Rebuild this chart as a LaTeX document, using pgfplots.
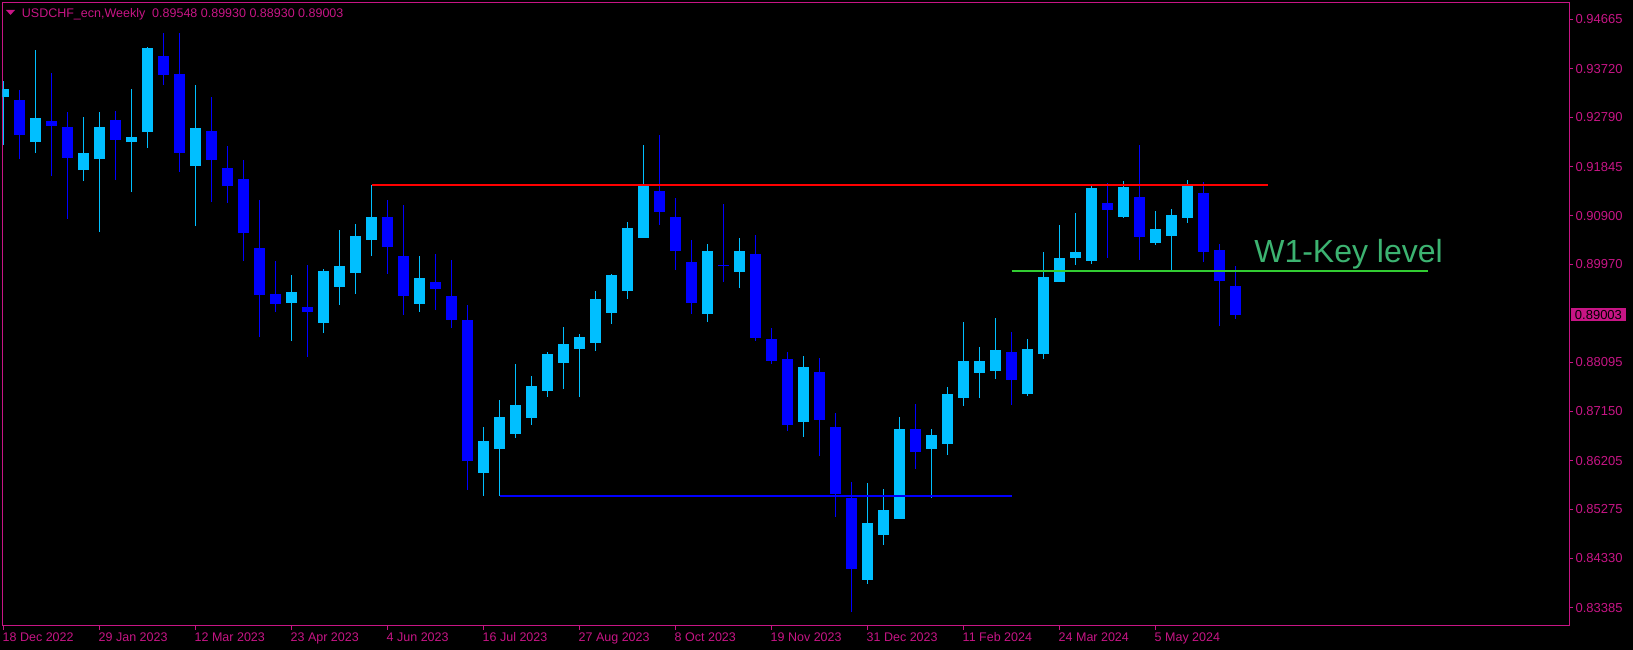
\documentclass[border=0pt]{standalone}
\usepackage{fontspec}
\setmainfont{Liberation Sans}
\usepackage{pgfplots}
\pgfplotsset{compat=1.18}
\usepackage{pgfplotstable}
\definecolor{mvr}{RGB}{199,21,133}
\definecolor{bullc}{RGB}{0,191,255}
\definecolor{bearc}{RGB}{0,0,255}
\definecolor{keyline}{RGB}{50,205,50}
\definecolor{keytext}{RGB}{60,179,113}

% weekly candles, index 0 = week of 18 Dec 2022
\pgfplotstableread{
i O H L C
0 0.93185 0.93486 0.92259 0.93332
2 0.92316 0.94080 0.92105 0.92776
5 0.91779 0.92796 0.91568 0.92105
6 0.91990 0.92891 0.90590 0.92604
8 0.92316 0.93332 0.91357 0.92412
9 0.92508 0.94138 0.92201 0.94119
12 0.91856 0.93409 0.90705 0.92585
18 0.89229 0.89766 0.88500 0.89440
20 0.88846 0.89881 0.88654 0.89843
21 0.89536 0.90629 0.89191 0.89938
22 0.89804 0.90744 0.89402 0.90514
23 0.90437 0.91492 0.90130 0.90878
26 0.89216 0.90130 0.89062 0.89708
30 0.85975 0.86851 0.85534 0.86583
31 0.86435 0.87369 0.85534 0.87043
32 0.86723 0.88059 0.86646 0.87273
33 0.87030 0.87829 0.86895 0.87637
34 0.87547 0.88289 0.87432 0.88251
35 0.88084 0.88769 0.87586 0.88443
36 0.88353 0.88635 0.87432 0.88577
37 0.88468 0.89459 0.88314 0.89306
38 0.89043 0.89791 0.88832 0.89766
39 0.89465 0.90782 0.89311 0.90667
40 0.90481 0.92259 0.90481 0.91478
44 0.89024 0.90360 0.88870 0.90226
46 0.89829 0.90475 0.89522 0.90226
50 0.86953 0.88213 0.86665 0.88002
54 0.83923 0.85778 0.83847 0.85010
55 0.84786 0.85662 0.84594 0.85260
56 0.85093 0.87043 0.85093 0.86813
58 0.86435 0.86813 0.85496 0.86698
59 0.86531 0.87618 0.86320 0.87484
60 0.87413 0.88865 0.87260 0.88117
61 0.87893 0.88385 0.87413 0.88117
62 0.87931 0.88941 0.87777 0.88328
64 0.87490 0.88539 0.87452 0.88347
65 0.88257 0.90207 0.88161 0.89728
66 0.89637 0.90725 0.89637 0.90092
67 0.90098 0.90955 0.89963 0.90207
68 0.90040 0.91472 0.89983 0.91434
70 0.90884 0.91568 0.90865 0.91453
72 0.90385 0.90993 0.90347 0.90648
73 0.90520 0.91031 0.89868 0.90916
74 0.90865 0.91588 0.90769 0.91472
}\bull

\pgfplotstableread{
i O H L C
1 0.93122 0.93313 0.91990 0.92450
3 0.92719 0.93639 0.91664 0.92623
4 0.92604 0.92891 0.90840 0.92015
7 0.92738 0.92911 0.91588 0.92355
10 0.93965 0.94406 0.93409 0.93601
11 0.93620 0.94406 0.91741 0.92105
13 0.92527 0.93179 0.91166 0.91971
14 0.91818 0.92239 0.91147 0.91472
15 0.91607 0.91971 0.90034 0.90571
16 0.90284 0.91204 0.88577 0.89382
17 0.89402 0.90034 0.89056 0.89210
19 0.89152 0.89958 0.88199 0.89056
24 0.90878 0.91204 0.89785 0.90303
25 0.90130 0.91108 0.88999 0.89369
27 0.89632 0.90169 0.89101 0.89497
28 0.89363 0.90054 0.88755 0.88909
29 0.88903 0.89191 0.85649 0.86205
41 0.91377 0.92450 0.90725 0.90980
42 0.90878 0.91242 0.89868 0.90232
43 0.90015 0.90437 0.89024 0.89235
45 0.89950 0.91127 0.89637 0.89930
47 0.90169 0.90533 0.88506 0.88564
48 0.88539 0.88750 0.88065 0.88123
49 0.88155 0.88289 0.86780 0.86895
51 0.87906 0.88174 0.86301 0.86991
52 0.86851 0.87120 0.85131 0.85572
53 0.85496 0.85797 0.83310 0.84134
57 0.86813 0.87292 0.86052 0.86378
63 0.88289 0.88673 0.87279 0.87758
69 0.91147 0.91530 0.90098 0.91018
71 0.91262 0.92259 0.90059 0.90500
75 0.91338 0.91549 0.90021 0.90213
76 0.90245 0.90360 0.88794 0.89657
77 0.89548 0.89930 0.88930 0.89003
}\bear

\begin{document}
\begin{tikzpicture}
\fill[black] (0,0) rectangle (1633pt,650pt);
\begin{axis}[
  at={(2.3pt,24pt)}, anchor=south west,
  scale only axis, width=1567pt, height=623.7pt,
  xmin=-0.075, xmax=97.8625, ymin=0.830354, ymax=0.949949,
  clip mode=individual,
  axis line style={draw=mvr, line width=1pt},
  tick align=outside, major tick length=4pt,
  major tick style={draw=mvr, line width=1pt},
  xtick pos=left, ytick pos=right,
  xticklabel pos=left, yticklabel pos=right,
  scaled y ticks=false, scaled x ticks=false,
  xtick={0,6,12,18,24,30,36,42,48,54,60,66,72},
  xticklabels={18 Dec 2022,29 Jan 2023,12 Mar 2023,23 Apr 2023,4 Jun 2023,16 Jul 2023,27 Aug 2023,8 Oct 2023,19 Nov 2023,31 Dec 2023,11 Feb 2024,24 Mar 2024,5 May 2024},
  ytick={0.94665,0.93720,0.92790,0.91845,0.90900,0.89970,0.88095,0.87150,0.86205,0.85275,0.84330,0.83385},
  yticklabels={0.94665,0.93720,0.92790,0.91845,0.90900,0.89970,0.88095,0.87150,0.86205,0.85275,0.84330,0.83385},
  xticklabel style={font=\fontsize{12.5}{12.5}\selectfont, text=mvr, anchor=north west, inner sep=0pt, text height=9pt, text depth=0pt, xshift=-1pt, yshift=-2pt},
  yticklabel style={font=\fontsize{13}{13}\selectfont, text=mvr, anchor=west, inner sep=0pt, xshift=2pt},
]
% wicks
\addplot[draw=none, mark=none, forget plot,
  error bars/.cd, y dir=plus, y explicit, error mark=none,
  error bar style={draw=bullc, line width=1.1pt, solid}]
  table[x=i, y=L, y error plus expr=\thisrow{H}-\thisrow{L}] {\bull};
\addplot[draw=none, mark=none, forget plot,
  error bars/.cd, y dir=plus, y explicit, error mark=none,
  error bar style={draw=bearc, line width=1.1pt, solid}]
  table[x=i, y=L, y error plus expr=\thisrow{H}-\thisrow{L}] {\bear};
% bodies
\addplot[draw=none, mark=none, forget plot,
  error bars/.cd, y dir=plus, y explicit, error mark=none,
  error bar style={draw=bullc, line width=11pt, solid}]
  table[x=i, y=O, y error plus expr=\thisrow{C}-\thisrow{O}] {\bull};
\addplot[draw=none, mark=none, forget plot,
  error bars/.cd, y dir=plus, y explicit, error mark=none,
  error bar style={draw=bearc, line width=11pt, solid}]
  table[x=i, y=C, y error plus expr=\thisrow{O}-\thisrow{C}] {\bear};
% levels
\addplot[draw=red, line width=1.9pt, mark=none] coordinates {(23,0.91497) (79,0.91497)};
\addplot[draw=bearc, line width=2pt, mark=none] coordinates {(31,0.85534) (63,0.85534)};
\addplot[draw=keyline, line width=1.9pt, mark=none] coordinates {(63,0.89848) (89,0.89848)};
\node[anchor=base west, inner sep=0pt, text=keytext, font=\fontsize{32}{32}\selectfont] at (axis cs:78.16,0.90002) {W1-Key level};
\node[anchor=west, fill=mvr, text=black, inner xsep=4pt, inner ysep=0pt, minimum height=12.7pt, font=\fontsize{13}{13}\selectfont, xshift=1.4pt] at (axis cs:97.8625,0.89003) {0.89003};
\end{axis}
\fill[mvr] (6pt,640pt) -- (15pt,640pt) -- (10.5pt,635pt) -- cycle;
\node[anchor=base west, inner sep=0pt, text=mvr, font=\fontsize{12.5}{12.5}\selectfont] at (21.7pt,632.7pt) {USDCHF\_ecn,Weekly\ \ 0.89548 0.89930 0.88930 0.89003};
\pgfresetboundingbox
\path[use as bounding box] (0,0) rectangle (1633pt,650pt);
\end{tikzpicture}
\end{document}
